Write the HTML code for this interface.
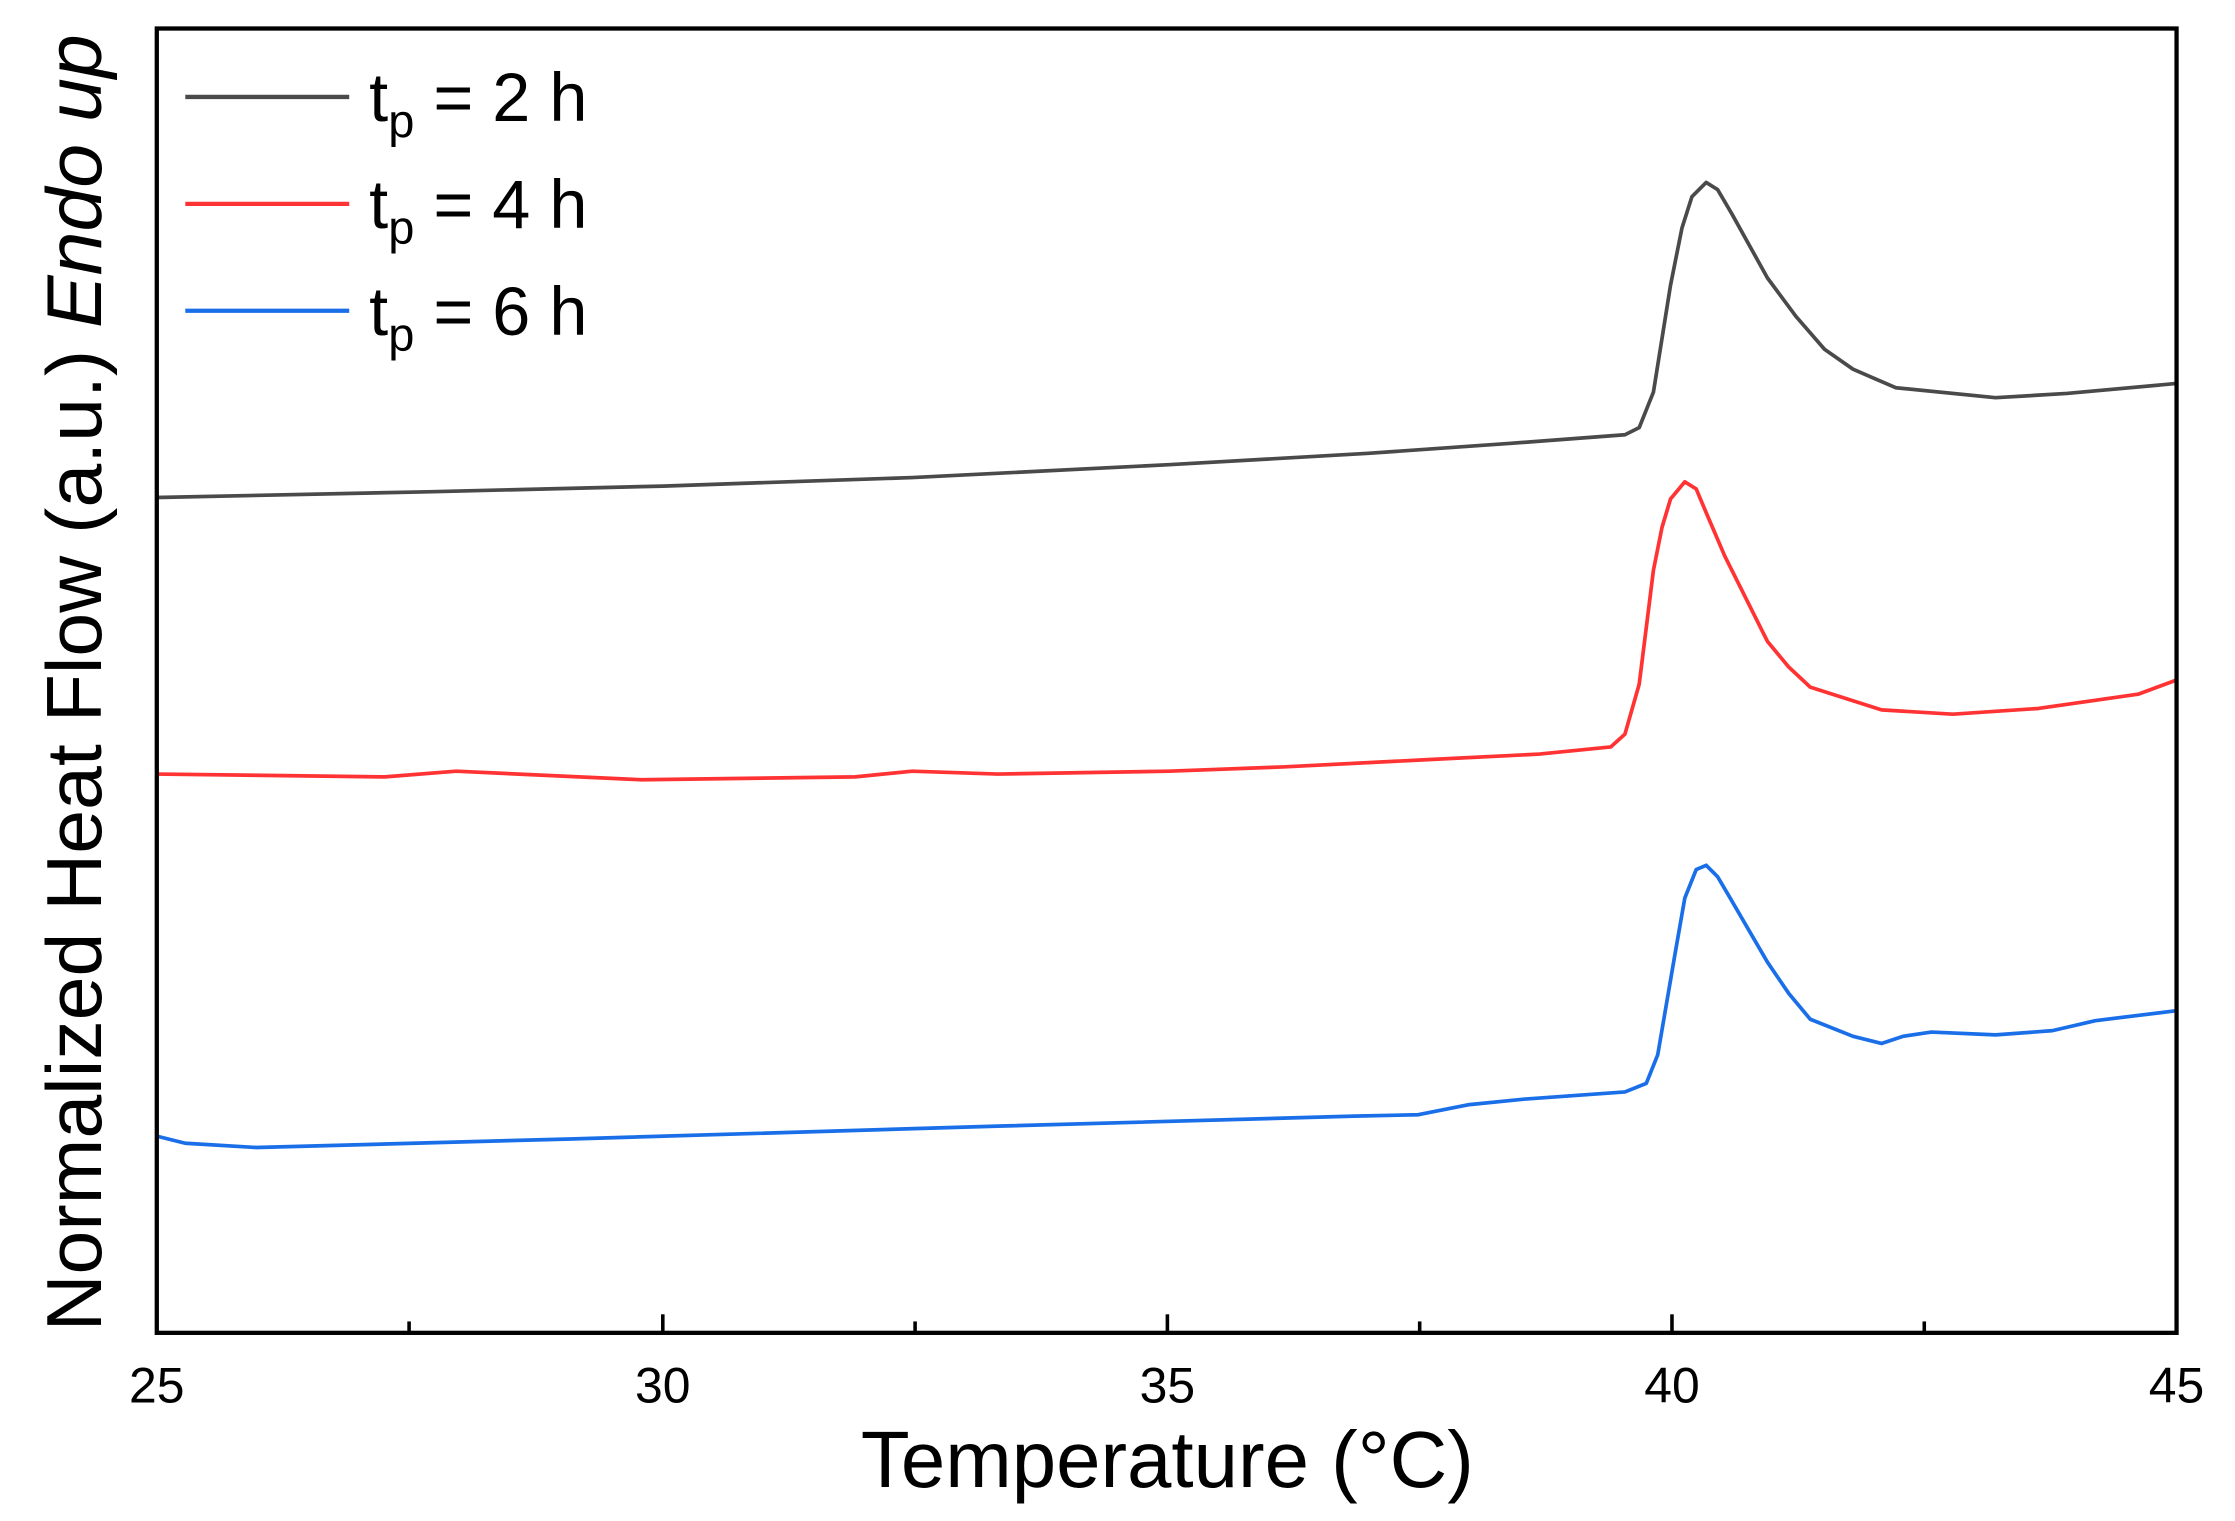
<!DOCTYPE html>
<html><head><meta charset="utf-8"><style>html,body{margin:0;padding:0;background:#fff}svg{display:block}</style></head>
<body>
<svg width="2235" height="1521" viewBox="0 0 1568 1067" preserveAspectRatio="none" xmlns="http://www.w3.org/2000/svg" font-family="Liberation Sans, sans-serif">
<rect width="1568" height="1067" fill="#fff"/>
<g fill="none" stroke-linejoin="round" stroke-width="2.6">
<polyline stroke="#4a4a4a" points="110,349 300,345 465,341 640,335 820,326 960,318 1060,311 1140,305 1150,300 1160,275 1172,200 1180,160 1187,138 1197,128 1205,133 1215,150 1240,195 1260,222 1280,245 1300,259 1330,272 1400,279 1450,276 1527,269"/>
<polyline stroke="#ff3333" points="110,543 270,545 320,541 450,547 600,545 640,541 700,543 820,541 900,538 1000,533 1080,529 1130,524 1140,515 1150,480 1160,400 1166,370 1172,350 1182,338 1190,343 1198,362 1210,390 1225,420 1240,450 1255,468 1270,482 1320,498 1370,501 1430,497 1500,487 1527,477"/>
<polyline stroke="#1a6fe8" points="110,797 130,802 180,805 400,799 700,790 950,783 995,782 1030,775 1070,771 1140,766 1155,760 1163,740 1175,670 1182,630 1190,610 1197,607 1205,615 1215,632 1240,675 1255,697 1270,715 1300,727 1320,732 1335,727 1355,724 1400,726 1440,723 1470,716 1527,709"/>
</g>
<rect x="110" y="20" width="1417" height="915" fill="none" stroke="#000" stroke-width="3"/>
<g stroke="#000" stroke-width="2.5">
<line x1="465" y1="935" x2="465" y2="922"/><line x1="819" y1="935" x2="819" y2="922"/><line x1="1173" y1="935" x2="1173" y2="922"/>
<line x1="287" y1="935" x2="287" y2="927"/><line x1="642" y1="935" x2="642" y2="927"/><line x1="996" y1="935" x2="996" y2="927"/><line x1="1350" y1="935" x2="1350" y2="927"/>
</g>
<g font-size="35" text-anchor="middle" fill="#000">
<text x="110" y="984">25</text><text x="465" y="984">30</text><text x="819" y="984">35</text><text x="1173" y="984">40</text><text x="1527" y="984">45</text>
</g>
<text x="819" y="1043" font-size="56" text-anchor="middle">Temperature (°C)</text>
<text transform="translate(71,479) rotate(-90)" font-size="55" text-anchor="middle" textLength="910" lengthAdjust="spacingAndGlyphs">Normalized Heat Flow (a.u.) <tspan font-style="italic">Endo up</tspan></text>
<g stroke-width="3">
<line x1="130" y1="68" x2="245" y2="68" stroke="#4a4a4a"/>
<line x1="130" y1="143" x2="245" y2="143" stroke="#ff3333"/>
<line x1="130" y1="218" x2="245" y2="218" stroke="#1a6fe8"/>
</g>
<g font-size="48" fill="#000">
<text x="259" y="85">t<tspan font-size="33" dy="11">p</tspan><tspan dy="-11"> = 2 h</tspan></text>
<text x="259" y="160">t<tspan font-size="33" dy="11">p</tspan><tspan dy="-11"> = 4 h</tspan></text>
<text x="259" y="235">t<tspan font-size="33" dy="11">p</tspan><tspan dy="-11"> = 6 h</tspan></text>
</g>
</svg>
</body></html>
